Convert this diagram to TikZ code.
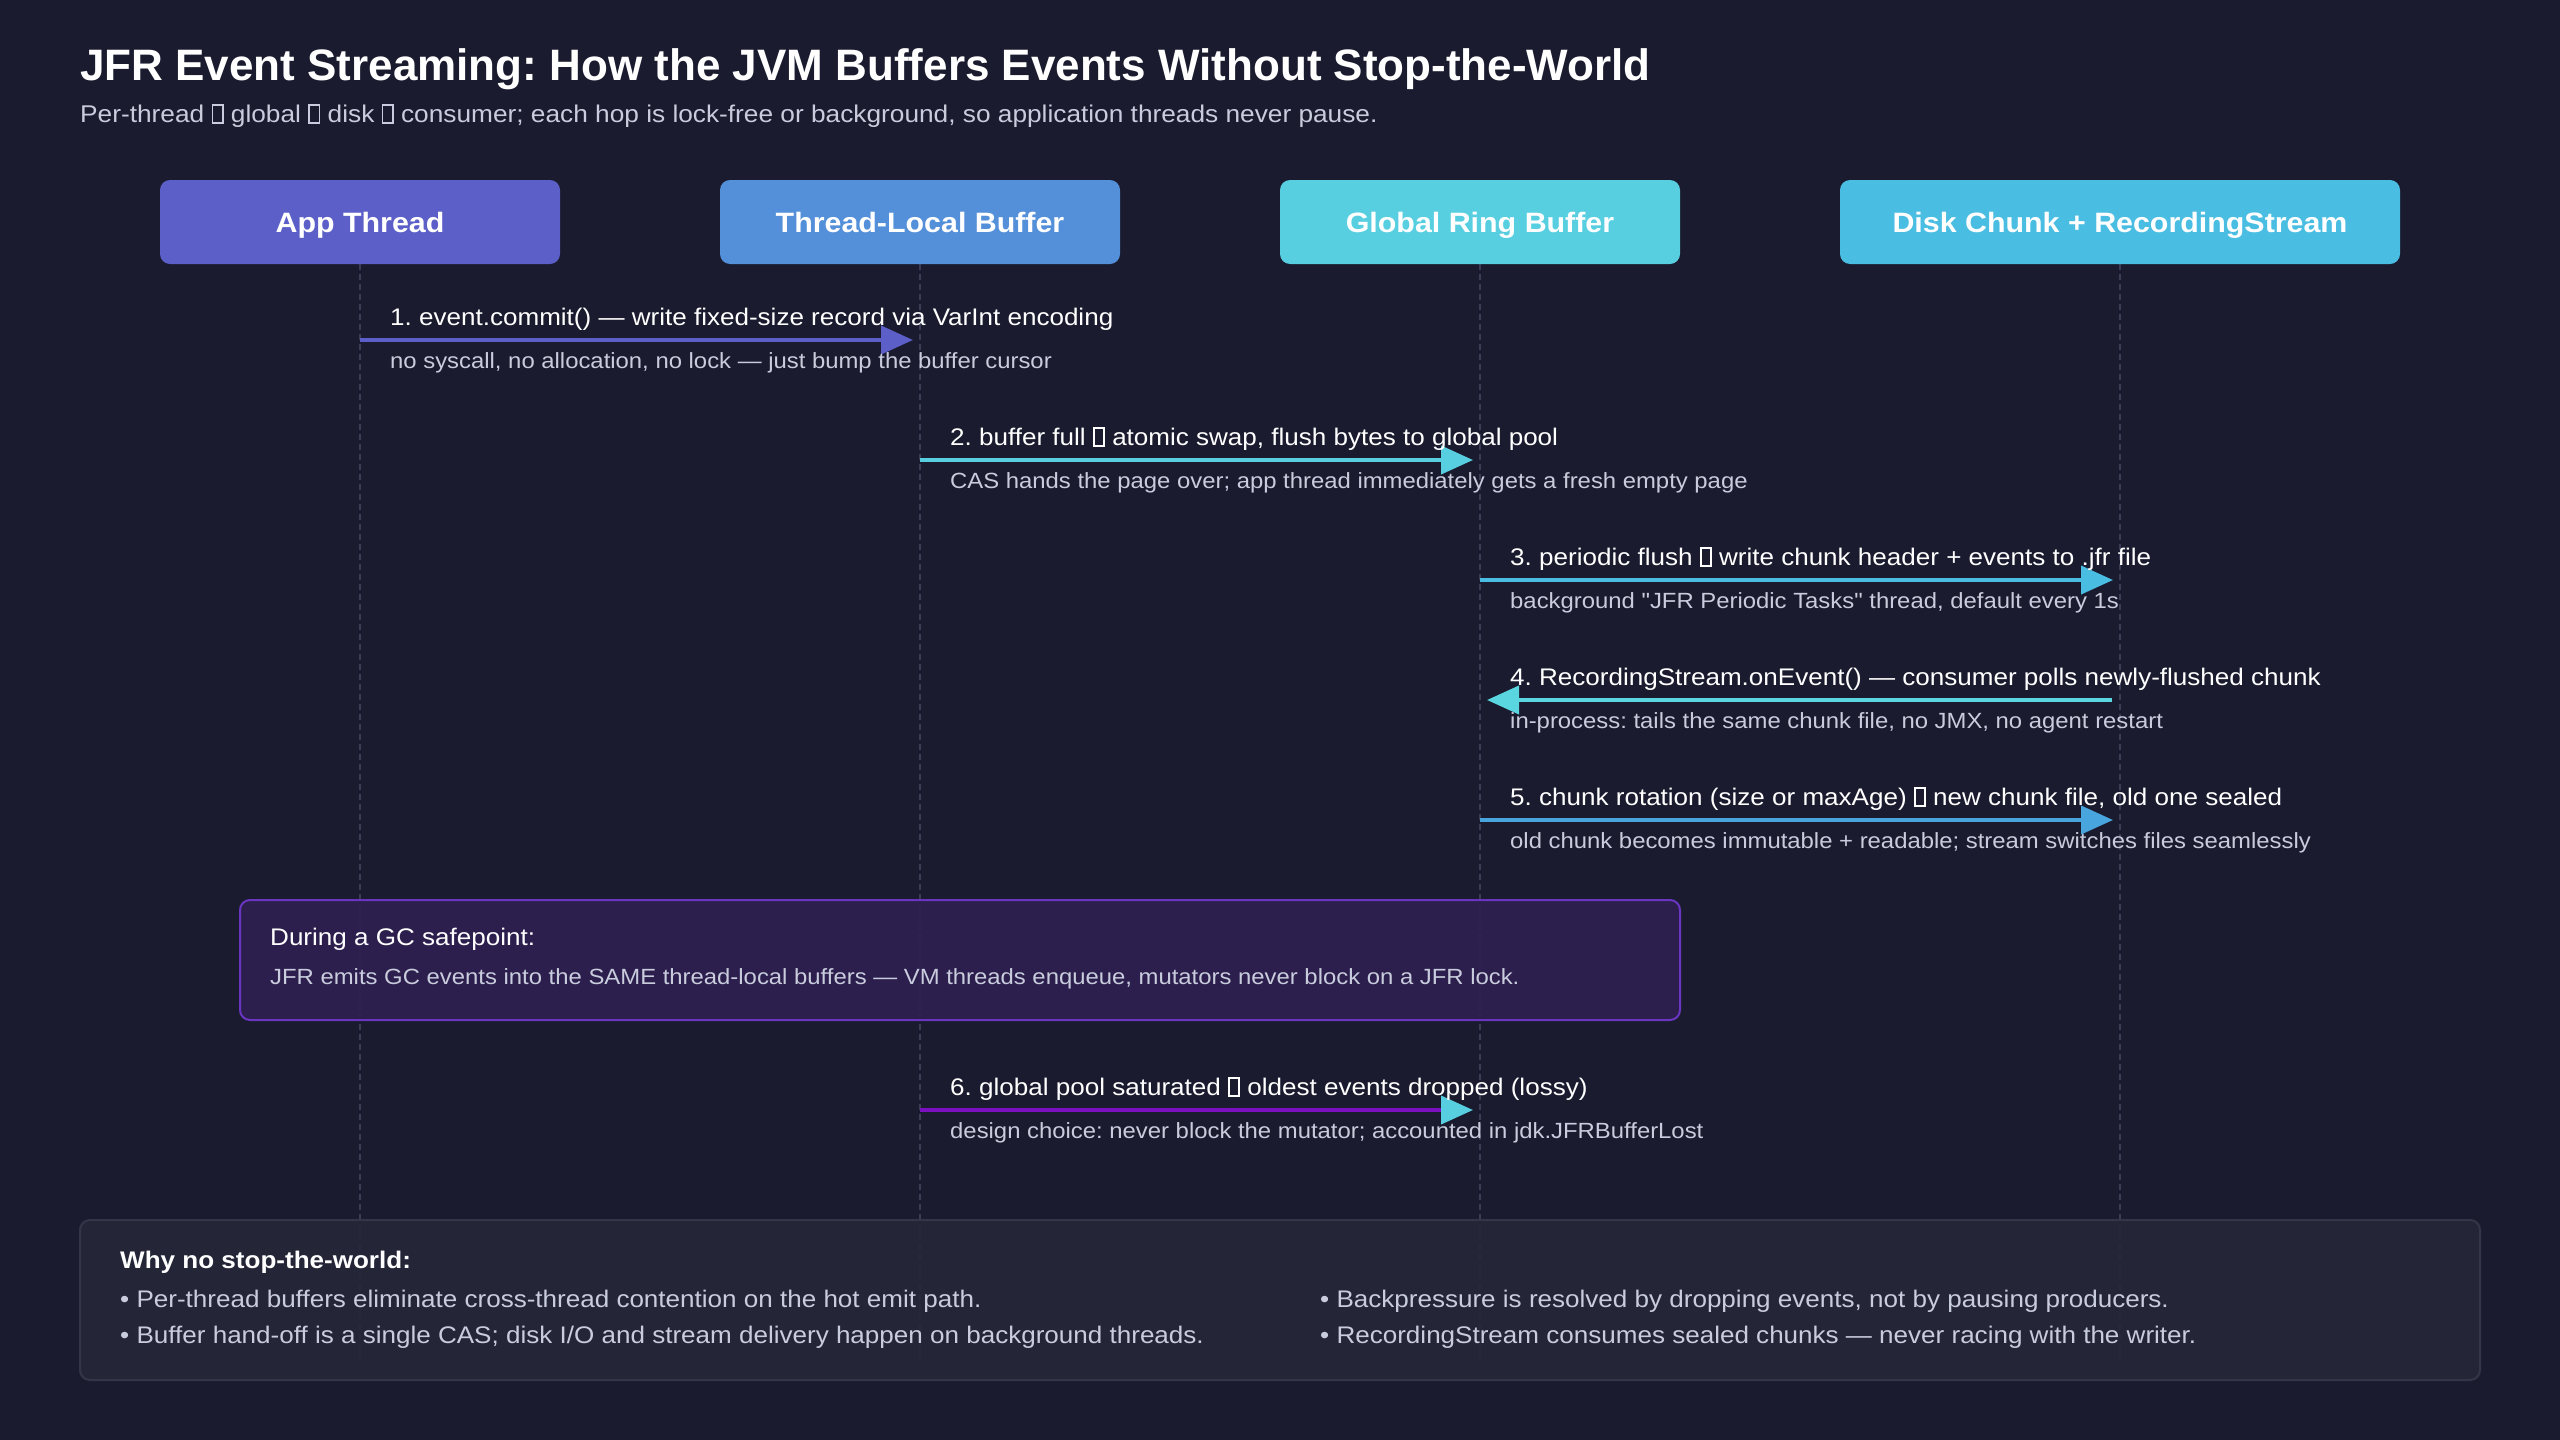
\documentclass[tikz,border=0pt]{standalone}
\usepackage{fontspec}
\setmainfont{Liberation Sans}[FakeStretch=1.085, Ligatures=TeXOff]
\newfontfamily\titlefont{Liberation Sans}
\usetikzlibrary{arrows.meta}
\definecolor{bg}{RGB}{26,27,46}
\definecolor{lifec}{RGB}{58,61,85}
\definecolor{appc}{RGB}{92,95,200}
\definecolor{tlbc}{RGB}{84,143,217}
\definecolor{grbc}{RGB}{88,207,224}
\definecolor{diskc}{RGB}{74,189,226}
\definecolor{m4c}{RGB}{90,214,224}
\definecolor{m5c}{RGB}{72,165,222}
\definecolor{m6c}{RGB}{122,16,192}
\definecolor{subc}{RGB}{200,204,220}
\definecolor{gcfill}{RGB}{46,32,82}
\definecolor{gcborder}{RGB}{106,53,192}
\definecolor{whyfill}{RGB}{38,40,58}
\definecolor{whyborder}{RGB}{52,54,72}
\newcommand\tofu{\raisebox{0pt}{\fboxsep=0pt\fboxrule=0.07em\fbox{\rule{0pt}{0.66em}\rule{0.36em}{0pt}}}}
\tikzset{
  actor/.style={rounded corners=10pt, minimum width=400pt, minimum height=84pt, inner sep=0pt,
    text height=20pt, text depth=0pt,
    text=white, font=\fontsize{28}{34}\selectfont\bfseries},
  lifeline/.style={draw=lifec, line width=1.5pt, dash pattern=on 6pt off 4pt},
  msg/.style={line width=4pt, -{Triangle[length=32pt,width=28pt]}},
  lbl/.style={anchor=base west, inner sep=0pt, text=white, font=\fontsize{24}{28}\selectfont},
  sublbl/.style={anchor=base west, inner sep=0pt, text=subc, font=\fontsize{22}{26}\selectfont},
  panel/.style={rounded corners=10pt, line width=2pt, inner sep=0pt},
}
\frenchspacing
\begin{document}
\frenchspacing
\begin{tikzpicture}[x=1pt,y=-1pt]
\fill[bg] (0,0) rectangle (2560,1440);
\useasboundingbox (0,0) rectangle (2560,1440);

% title
\node[anchor=base west, inner sep=0pt, text=white, font=\titlefont\fontsize{44}{52}\selectfont\bfseries] (title) at (80,80)
  {JFR Event Streaming: How the JVM Buffers Events Without Stop-the-World};
\node[anchor=base west, inner sep=0pt, text=subc, font=\fontsize{24.2}{28}\selectfont] (subtitle) at (80,122)
  {Per-thread \tofu\ global \tofu\ disk \tofu\ consumer; each hop is lock-free or background, so application threads never pause.};

% lifeline ends
\coordinate (app-end) at (360,1360);
\coordinate (tlb-end) at (920,1360);
\coordinate (grb-end) at (1480,1360);
\coordinate (disk-end) at (2120,1360);
\draw[lifeline] (360,264) -- (app-end);
\draw[lifeline] (920,264) -- (tlb-end);
\draw[lifeline] (1480,264) -- (grb-end);
\draw[lifeline] (2120,264) -- (disk-end);

% actors
\node[actor, fill=appc] (app) at (360,222) {App Thread};
\node[actor, fill=tlbc] (tlb) at (920,222) {Thread-Local Buffer};
\node[actor, fill=grbc] (grb) at (1480,222) {Global Ring Buffer};
\node[actor, fill=diskc, minimum width=560pt] (disk) at (2120,222) {Disk Chunk + RecordingStream};

% message anchor points on lifelines
\coordinate (app-m1) at (360,340);
\coordinate (tlb-m1) at (913,340);
\coordinate (tlb-m2) at (920,460);
\coordinate (grb-m2) at (1473,460);
\coordinate (grb-m3) at (1480,580);
\coordinate (disk-m3) at (2113,580);
\coordinate (disk-m4) at (2112,700);
\coordinate (grb-m4) at (1487,700);
\coordinate (grb-m5) at (1480,820);
\coordinate (disk-m5) at (2113,820);
\coordinate (tlb-m6) at (920,1110);
\coordinate (grb-m6) at (1473,1110);

\draw[msg, draw=appc, fill=appc] (app-m1) -- (tlb-m1);
\draw[msg, draw=grbc, fill=grbc] (tlb-m2) -- (grb-m2);
\draw[msg, draw=diskc, fill=diskc] (grb-m3) -- (disk-m3);
\draw[msg, draw=m4c, fill=m4c] (disk-m4) -- (grb-m4);
\draw[msg, draw=m5c, fill=m5c] (grb-m5) -- (disk-m5);
\draw[line width=4pt, draw=m6c, -{Triangle[length=32pt,width=28pt,color=grbc]}] (tlb-m6) -- (grb-m6);

% labels
\node[lbl] (l1) at (390,325) {1. event.commit() — write fixed-size record via VarInt encoding};
\node[sublbl] (s1) at (390,368) {no syscall, no allocation, no lock — just bump the buffer cursor};
\node[lbl] (l2) at (950,445) {2. buffer full \tofu\ atomic swap, flush bytes to global pool};
\node[sublbl] (s2) at (950,488) {CAS hands the page over; app thread immediately gets a fresh empty page};
\node[lbl] (l3) at (1510,565) {3. periodic flush \tofu\ write chunk header + events to .jfr file};
\node[sublbl] (s3) at (1510,608) {background "JFR Periodic Tasks" thread, default every 1s};
\node[lbl] (l4) at (1510,685) {4. RecordingStream.onEvent() — consumer polls newly-flushed chunk};
\node[sublbl] (s4) at (1510,728) {in-process: tails the same chunk file, no JMX, no agent restart};
\node[lbl] (l5) at (1510,805) {5. chunk rotation (size or maxAge) \tofu\ new chunk file, old one sealed};
\node[sublbl] (s5) at (1510,848) {old chunk becomes immutable + readable; stream switches files seamlessly};

% GC safepoint panel
\node[panel, draw=gcborder, fill=gcfill, fill opacity=0.9, minimum width=1440pt, minimum height=120pt] (gc) at (960,960) {};
\node[lbl] (gct) at (270,945) {During a GC safepoint:};
\node[sublbl] (gcs) at (270,984) {JFR emits GC events into the SAME thread-local buffers — VM threads enqueue, mutators never block on a JFR lock.};

\node[lbl] (l6) at (950,1095) {6. global pool saturated \tofu\ oldest events dropped (lossy)};
\node[sublbl] (s6) at (950,1138) {design choice: never block the mutator; accounted in jdk.JFRBufferLost};

% bottom panel
\node[panel, draw=whyborder, fill=whyfill, fill opacity=0.9, minimum width=2400pt, minimum height=160pt] (why) at (1280,1300) {};
\node[lbl, font=\fontsize{24}{28}\selectfont\bfseries] (wt) at (120,1268) {Why no stop-the-world:};
\node[lbl, text=subc] (w1) at (120,1307) {• Per-thread buffers eliminate cross-thread contention on the hot emit path.};
\node[lbl, text=subc] (w2) at (120,1343) {• Buffer hand-off is a single CAS; disk I/O and stream delivery happen on background threads.};
\node[lbl, text=subc] (w3) at (1320,1307) {• Backpressure is resolved by dropping events, not by pausing producers.};
\node[lbl, text=subc] (w4) at (1320,1343) {• RecordingStream consumes sealed chunks — never racing with the writer.};
\end{tikzpicture}
\end{document}
